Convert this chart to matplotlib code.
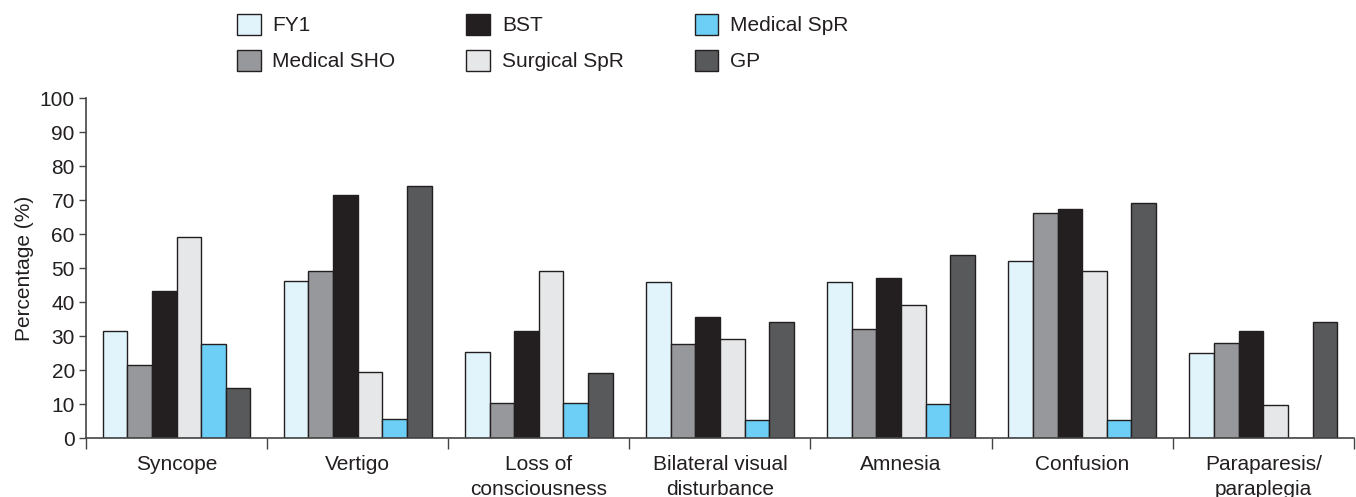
import matplotlib.pyplot as plt
import numpy as np

plt.rcParams["font.family"] = ["Liberation Sans", "DejaVu Sans"]

categories = ["Syncope", "Vertigo", "Loss of\nconsciousness", "Bilateral visual\ndisturbance",
              "Amnesia", "Confusion", "Paraparesis/\nparaplegia"]
series = ["FY1", "Medical SHO", "BST", "Surgical SpR", "Medical SpR", "GP"]

fy1 = [31.4, 46.1, 25.2, 46.0, 46.0, 52.2, 25.1]
med_sho = [21.4, 49.0, 10.4, 27.6, 32.1, 66.3, 27.9]
bst = [43.2, 71.4, 31.6, 35.5, 47.1, 67.5, 31.6]
surg_spr = [59.0, 19.3, 49.0, 29.1, 39.1, 49.1, 9.6]
med_spr = [27.7, 5.5, 10.2, 5.2, 10.1, 5.2, 0]
gp = [14.7, 74.0, 19.2, 34.2, 53.9, 69.1, 34.2]

values = [fy1, med_sho, bst, surg_spr, med_spr, gp]
colors = ["#e1f3fb", "#97989c", "#231f20", "#e6e7e8", "#6dcff6", "#58595b"]

fig = plt.figure(figsize=(13.56, 4.97), dpi=100)
ax = fig.add_axes([0.0634, 0.1187, 0.935, 0.684])

x = np.arange(len(categories)) + 0.5
w = 0.136
for i, (name, vals, col) in enumerate(zip(series, values, colors)):
    xs = x + (i - 2.5) * w
    ax.bar(xs, vals, width=w, color=col, edgecolor="#231f20", linewidth=1.0, label=name)

ax.set_xlim(0, len(categories))
ax.set_ylim(0, 100)
ax.set_yticks(range(0, 101, 10))
ax.set_xticks(np.arange(len(categories) + 1))
ax.set_xticklabels([])
ax.set_xticks(x, minor=True)
ax.set_xticklabels(categories, minor=True, fontsize=15, linespacing=1.4, color="#231f20")
ax.tick_params(axis="x", which="minor", length=0, pad=12)
ax.tick_params(axis="x", which="major", length=8, color="#444444", width=1)
ax.tick_params(axis="y", length=5, color="#444444", width=1, labelsize=15, pad=3,
               labelcolor="#231f20")
for s in ["top", "right"]:
    ax.spines[s].set_visible(False)
for s in ["left", "bottom"]:
    ax.spines[s].set_color("#444444")
    ax.spines[s].set_linewidth(1.2)

ax.set_ylabel("Percentage (%)", fontsize=15, labelpad=4, color="#231f20")

fig.legend(loc="upper left", bbox_to_anchor=(0.1748, 0.972), ncol=3, frameon=False,
           fontsize=15, handlelength=1.15, handleheight=1.15, columnspacing=3.4,
           labelspacing=0.7, handletextpad=0.55, borderpad=0, borderaxespad=0,
           labelcolor="#231f20")

fig.savefig("out.png", dpi=100)
